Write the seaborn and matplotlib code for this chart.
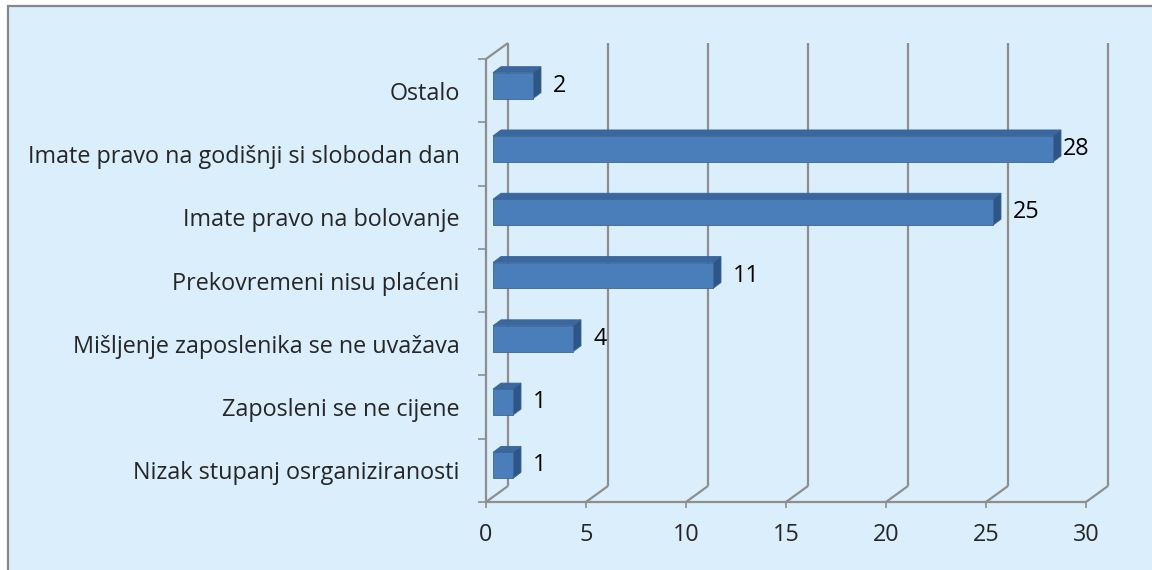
import numpy as np
import matplotlib
matplotlib.use("Agg")
import matplotlib.pyplot as plt
from matplotlib.patches import Rectangle, Polygon
import seaborn as sns

# ---- data -------------------------------------------------------------
categories = [
    "Ostalo",
    "Imate pravo na godišnji si slobodan dan",
    "Imate pravo na bolovanje",
    "Prekovremeni nisu plaćeni",
    "Mišljenje zaposlenika se ne uvažava",
    "Zaposleni se ne cijene",
    "Nizak stupanj osrganiziranosti",
]
counts = [2, 28, 25, 11, 4, 1, 1]
x_ticks = [0, 5, 10, 15, 20, 25, 30]

# ---- style ------------------------------------------------------------
sns.set_style("white")
plt.rcParams["font.family"] = ["Open Sans", "DejaVu Sans"]

BG = "#DBEEFB"
GRID = "#8E8E8E"
FRONT = "#4A7EBB"
TOP = "#3A679F"
SIDE = "#2D5588"
EDGE = "#3A6596"
FS = 16.8

W, H, DPI = 1152, 570, 100
fig = plt.figure(figsize=(W / DPI, H / DPI), dpi=DPI, facecolor="white")

# chart area: light panel with a grey border on the left and top
fig.patches.append(Rectangle((7.5 / W, -0.2), 1.5, (H - 6.0) / H + 0.2,
                             transform=fig.transFigure, facecolor=BG,
                             edgecolor="#878787", linewidth=1.6, zorder=-5))

# front plane of the 3D plot box, in pixels
left_px, right_px = 486, 1086
top_px, bottom_px = 59, 502
ax = fig.add_axes([left_px / W, (H - bottom_px) / H,
                   (right_px - left_px) / W, (bottom_px - top_px) / H])
ax.set_facecolor("none")
ax.set_zorder(2)

sns.barplot(x=counts, y=categories, orient="h", color=FRONT, saturation=1,
            width=0.41, edgecolor=EDGE, linewidth=0.6, ax=ax, zorder=3)

ax.set_xlim(0, 30)
ax.set_ylim(len(categories) - 0.5, -0.5)
for s in ax.spines.values():
    s.set_visible(False)


def px(dx, dy):
    """Screen offset (right, up) in pixels -> data offset."""
    p0 = ax.transData.inverted().transform((0, 0))
    p1 = ax.transData.inverted().transform((dx, dy))
    return p1 - p0


# depth of the plot box and of the bars
box_dx, box_dy = px(22, 16)
bar_off_x, bar_off_y = px(7, 5)
bar_dx, bar_dy = px(8, 6)

y_top, y_bot = -0.5, len(categories) - 0.5
line_kw = dict(color=GRID, lw=1.6, clip_on=False, zorder=1,
               solid_capstyle="butt")

# back wall verticals and floor diagonals
for t in x_ticks:
    ax.plot([t + box_dx, t + box_dx], [y_bot + box_dy, y_top + box_dy], **line_kw)
    ax.plot([t, t + box_dx], [y_bot, y_bot + box_dy], **line_kw)
# front floor edge, left wall front edge and its top edge
ax.plot([0, 30], [y_bot, y_bot], **line_kw)
ax.plot([0, 0], [y_bot, y_top], **line_kw)
ax.plot([0, box_dx], [y_top, y_top + box_dy], **line_kw)

# 3D bars: shift the front faces into the box and add top / side faces
for patch, val in zip(ax.patches, counts):
    x0 = patch.get_x() + bar_off_x
    y0 = patch.get_y() + bar_off_y
    h = patch.get_height()
    patch.set_x(x0)
    patch.set_y(y0)
    x1 = x0 + val
    y_up = min(y0, y0 + h)
    y_dn = max(y0, y0 + h)
    top_face = Polygon([(x0, y_up), (x1, y_up), (x1 + bar_dx, y_up + bar_dy),
                        (x0 + bar_dx, y_up + bar_dy)], closed=True,
                       facecolor=TOP, edgecolor=EDGE, lw=0.6, zorder=2.9,
                       clip_on=False)
    side_face = Polygon([(x1, y_up), (x1 + bar_dx, y_up + bar_dy),
                         (x1 + bar_dx, y_dn + bar_dy), (x1, y_dn)], closed=True,
                        facecolor=SIDE, edgecolor=EDGE, lw=0.6, zorder=2.9,
                        clip_on=False)
    ax.add_patch(top_face)
    ax.add_patch(side_face)
    # the longest bar's label sits tight against the box edge
    gap = 2 if val == max(counts) else 12
    lab_dx, _ = px(gap, 0)
    ax.text(x1 + bar_dx + lab_dx, (y_up + y_dn) / 2, f"{val}", fontsize=FS,
            va="center", ha="left", color="black", zorder=4, clip_on=False)

# ticks and labels
ax.set_xticks(x_ticks)
ax.set_xticklabels([str(t) for t in x_ticks], fontsize=FS)
ax.set_yticks(range(len(categories)))
ax.set_yticklabels(categories, fontsize=FS)
ax.set_yticks(np.arange(-0.5, len(categories)), minor=True)
ax.tick_params(axis="y", which="major", length=0, pad=19)
ax.tick_params(axis="y", which="minor", length=5.8, width=1.2, color=GRID,
               direction="out", left=True)
ax.tick_params(axis="x", which="major", length=4.3, width=1.2, color=GRID,
               direction="out", bottom=True, pad=11)
ax.set_xlabel("")
ax.set_ylabel("")

fig.savefig("out.png", dpi=DPI, facecolor="white")
